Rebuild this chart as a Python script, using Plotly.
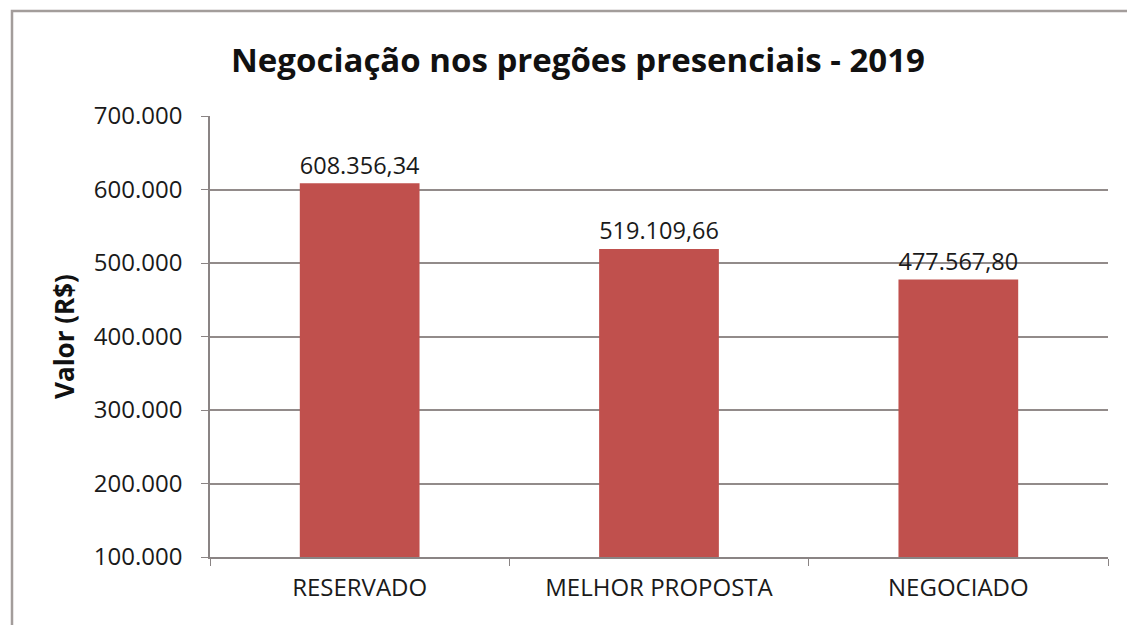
import plotly.graph_objects as go

categories = ["RESERVADO", "MELHOR PROPOSTA", "NEGOCIADO"]
values = [608356.34, 519109.66, 477567.80]
title_text = "Negociação nos pregões presenciais - 2019"
y_title = "Valor (R$)"
y_ticks = [100000, 200000, 300000, 400000, 500000, 600000, 700000]

FONT = "Open Sans"
W, H = 1127, 625
L, R, T, B = 210, 19, 116, 68
pw, ph = W - L - R, H - T - B

fig = go.Figure(go.Bar(
    x=categories, y=values,
    marker=dict(color="#C0504D", line=dict(width=0)),
    width=0.4,
    texttemplate="%{y:,.2f}", textposition="outside",
    textfont=dict(family=FONT, size=25, color="#1a1a1a"),
    cliponaxis=False,
))

fig.update_layout(
    width=W, height=H,
    margin=dict(l=L, r=R, t=T, b=B),
    paper_bgcolor="white", plot_bgcolor="white",
    separators=",.",
    showlegend=False,
    title=dict(text="<b>" + title_text + "</b>", x=(578 - L) / pw, xref="paper",
               xanchor="center", y=1 - 60 / H, yanchor="middle",
               font=dict(family=FONT, size=33, color="#111111")),
    xaxis=dict(showgrid=False, showline=True, linecolor="#8a8484", linewidth=1.5,
               ticks="outside", tickson="boundaries", ticklen=7, tickcolor="#8a8484",
               ticklabelstandoff=8,
               tickfont=dict(family=FONT, size=24, color="#1a1a1a")),
    yaxis=dict(range=[100000, 700000], tickvals=y_ticks, tickformat=",.0f",
               showgrid=True, gridcolor="#928b8a", gridwidth=1.5,
               showline=True, linecolor="#8a8484", linewidth=1.5,
               ticks="outside", ticklen=7, tickcolor="#8a8484",
               ticklabelstandoff=14,
               tickfont=dict(family=FONT, size=24, color="#1a1a1a"),
               title=dict(text="<b>" + y_title + "</b>", standoff=12,
                          font=dict(family=FONT, size=26, color="#111111"))),
    shapes=[dict(type="rect", xref="paper", yref="paper",
                 x0=(12 - L) / pw, x1=(W + 20 - L) / pw,
                 y0=-(B + 20) / ph, y1=(H - B - 11) / ph,
                 line=dict(color="#a39d9b", width=2.5), fillcolor="rgba(0,0,0,0)",
                 layer="below")],
)

fig.write_html("out.html", config={"displayModeBar": False},
               post_script="document.body.style.margin='0';")
